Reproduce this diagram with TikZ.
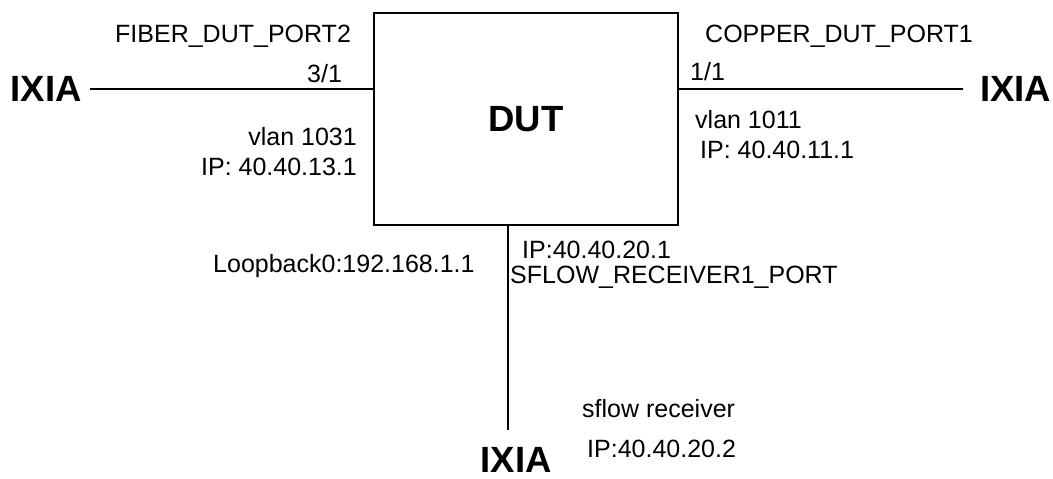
\documentclass[tikz,border=0pt]{standalone}
\usepackage{fontspec}
\setmainfont{Liberation Sans}
\begin{document}
\begin{tikzpicture}[x=1pt,y=-1pt,
  lbl/.style={inner sep=0pt,font=\fontsize{25}{29}\selectfont},
  big/.style={inner sep=0pt,font=\fontsize{36.5}{40}\selectfont\bfseries},
  wire/.style={line width=1.3pt,black}]
\useasboundingbox (0,0) rectangle (1053,479);
% DUT box
\node[draw,line width=1.3pt,minimum width=304pt,minimum height=212pt,inner sep=0pt,
      font=\fontsize{36.5}{40}\selectfont\bfseries] (dut) at (526,119) {DUT};
% IXIA nodes
\node[big,anchor=east,inner xsep=8pt] (ixl) at (90,89) {IXIA};
\node[big,anchor=west,inner xsep=17pt] (ixr) at (963,89) {IXIA};
\node[big,anchor=north] (ixb) at (516,447) {IXIA};
\coordinate (p20) at (508,225);
% connectors
\draw[wire] (ixl.east) -- (ixl.east -| dut.west);
\draw[wire] (dut.east |- ixr.west) -- (ixr.west);
\draw[wire,shorten >=17pt] (p20) -- (p20 |- ixb.north);
% labels
\node[lbl,anchor=base west] (fib) at (115,42) {FIBER\_DUT\_PORT2};
\node[lbl,anchor=base west] (p31) at (307,82) {3/1};
\node[lbl,anchor=base east] (v1031) at (357,145) {vlan 1031};
\node[lbl,anchor=base east] (ip13) at (357,175) {IP: 40.40.13.1};
\node[lbl,anchor=base west] (cop) at (705,42) {COPPER\_DUT\_PORT1};
\node[lbl,anchor=base west] (p11) at (690,80) {1/1};
\node[lbl,anchor=base west] (v1011) at (695,128) {vlan 1011};
\node[lbl,anchor=base west] (ip11) at (700,158) {IP: 40.40.11.1};
\node[lbl,anchor=base west] (lo) at (213,272) {Loopback0:192.168.1.1};
\node[lbl,anchor=base west] (ip201) at (522,258) {IP:40.40.20.1};
\node[lbl,anchor=base west] (sfp) at (510,283) {SFLOW\_RECEIVER1\_PORT};
\node[lbl,anchor=base west] (sfr) at (582,417) {sflow receiver};
\node[lbl,anchor=base west] (ip202) at (587,457) {IP:40.40.20.2};
\end{tikzpicture}
\end{document}
